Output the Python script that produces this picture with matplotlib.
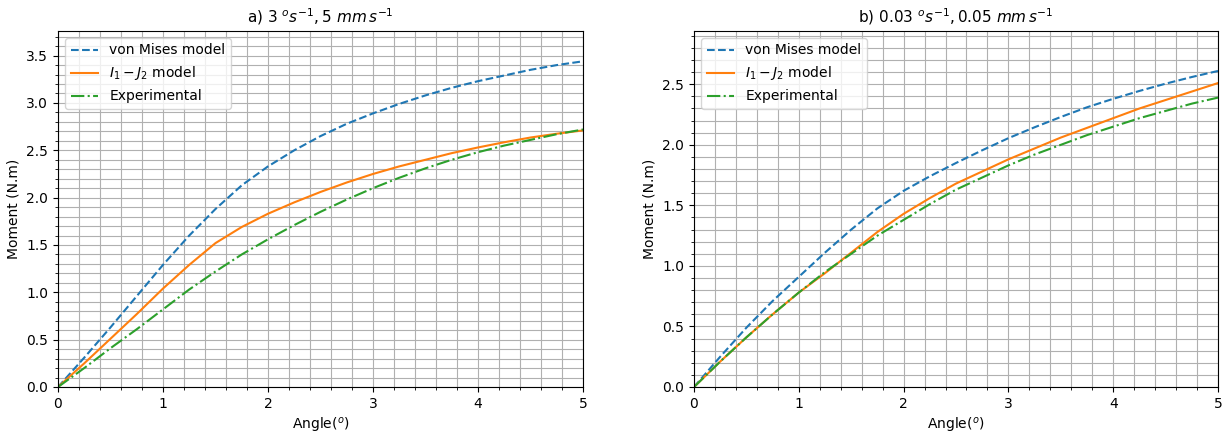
import matplotlib
matplotlib.use("Agg")
import matplotlib.pyplot as plt

angle = [0, 0.25, 0.5, 0.75, 1, 1.25, 1.5, 1.75, 2, 2.25, 2.5, 2.75,
         3, 3.25, 3.5, 3.75, 4, 4.25, 4.5, 4.75, 5]

# (a) 3 deg/s, 5 mm/s
a_vonmises = [0, 0.31, 0.63, 0.96, 1.29, 1.60, 1.88, 2.13, 2.33, 2.50, 2.65, 2.78,
              2.89, 2.99, 3.08, 3.16, 3.23, 3.29, 3.35, 3.40, 3.44]
a_i1j2 = [0, 0.25, 0.51, 0.77, 1.04, 1.29, 1.52, 1.69, 1.83, 1.95, 2.06, 2.16,
          2.25, 2.33, 2.40, 2.47, 2.53, 2.585, 2.635, 2.675, 2.71]
a_exp = [0, 0.20, 0.41, 0.61, 0.82, 1.03, 1.22, 1.40, 1.56, 1.71, 1.85, 1.98,
         2.10, 2.21, 2.31, 2.40, 2.48, 2.55, 2.61, 2.67, 2.72]

# (b) 0.03 deg/s, 0.05 mm/s
b_vonmises = [0, 0.25, 0.49, 0.71, 0.91, 1.11, 1.30, 1.475, 1.62, 1.74, 1.85, 1.955,
              2.055, 2.145, 2.23, 2.31, 2.38, 2.445, 2.505, 2.56, 2.61]
b_i1j2 = [0, 0.21, 0.41, 0.60, 0.78, 0.94, 1.11, 1.28, 1.43, 1.56, 1.68, 1.78,
          1.88, 1.97, 2.06, 2.14, 2.22, 2.30, 2.37, 2.44, 2.51]
b_exp = [0, 0.21, 0.41, 0.60, 0.78, 0.95, 1.10, 1.25, 1.38, 1.51, 1.63, 1.73,
         1.83, 1.92, 2.00, 2.08, 2.15, 2.22, 2.28, 2.34, 2.39]

titles = [r"a) 3 $^os^{-1}, 5\ mm\,s^{-1}$", r"b) 0.03 $^os^{-1}, 0.05\ mm\,s^{-1}$"]
labels = ["von Mises model", r"$I_1-J_2$ model", "Experimental"]
ylims = [3.76, 2.94]

fig = plt.figure(figsize=(12.29, 4.34), dpi=100)
ax1 = fig.add_axes([58/1229, 1-387/434, (583-58)/1229, (387-31)/434])
ax2 = fig.add_axes([694/1229, 1-387/434, (1218-694)/1229, (387-31)/434])

for ax, title, vm, ij, ex, yl in [(ax1, titles[0], a_vonmises, a_i1j2, a_exp, ylims[0]),
                                  (ax2, titles[1], b_vonmises, b_i1j2, b_exp, ylims[1])]:
    ax.plot(angle, vm, '--', color='#1f77b4', label=labels[0])
    ax.plot(angle, ij, '-', color='#ff7f0e', label=labels[1])
    ax.plot(angle, ex, '-.', color='#2ca02c', label=labels[2])
    ax.set_xlim(0, 5)
    ax.set_ylim(0, yl)
    ax.minorticks_on()
    ax.grid(which='major', color='#b0b0b0', linewidth=0.8)
    ax.grid(which='minor', color='#b0b0b0', linewidth=0.8)
    ax.set_axisbelow(True)
    ax.set_title(title, fontsize=11)
    ax.set_xlabel(r"Angle($^o$)")
    ax.set_ylabel("Moment (N.m)")
    ax.legend(loc='upper left')

fig.savefig("out.png", dpi=100)
